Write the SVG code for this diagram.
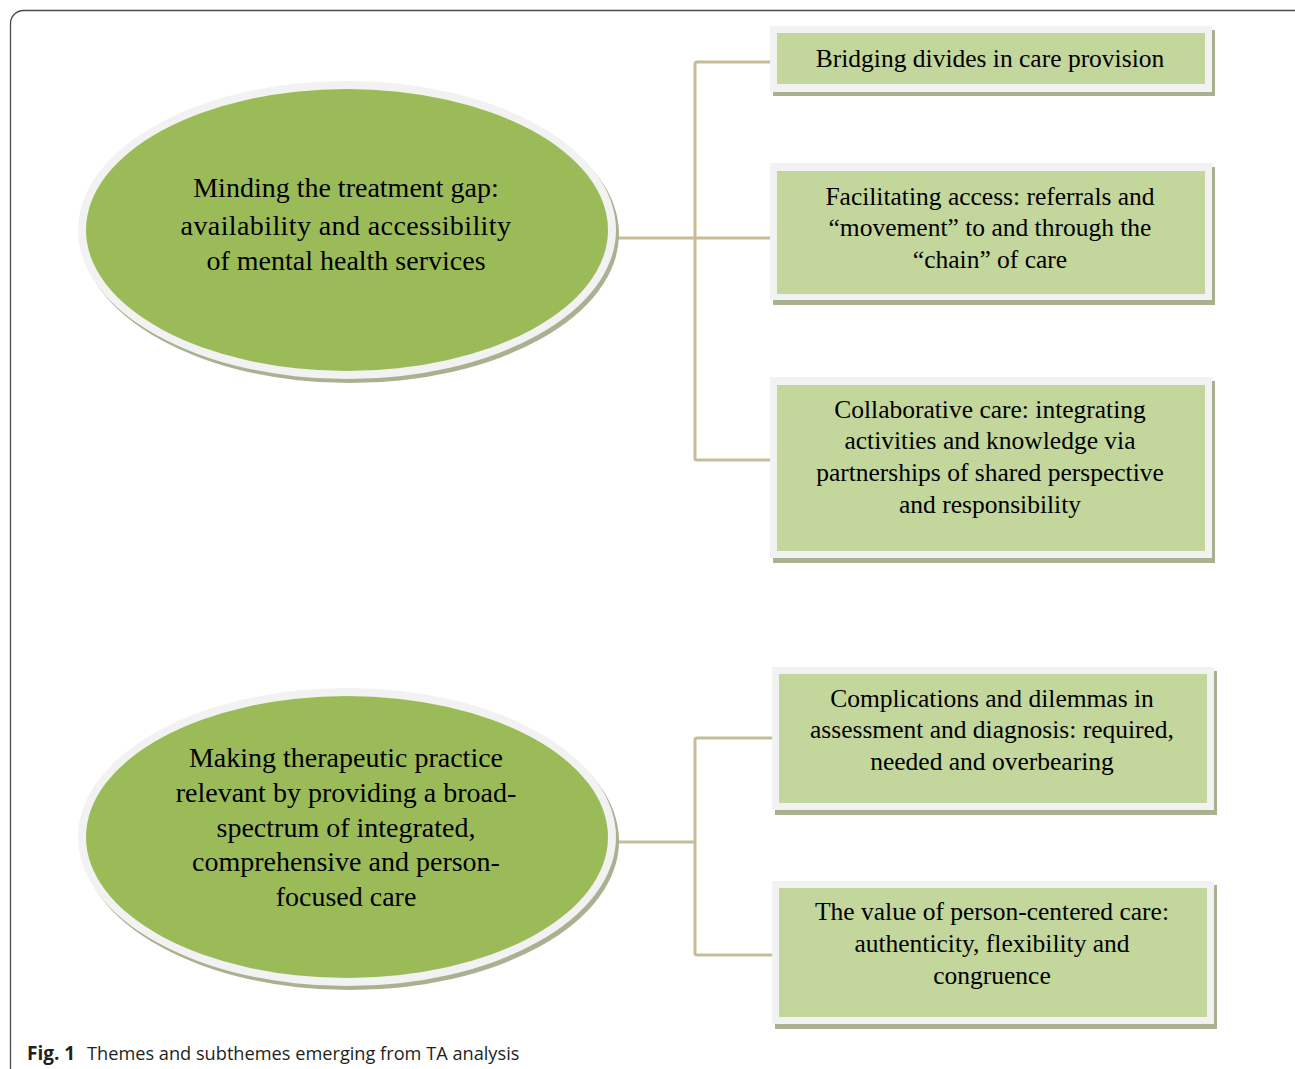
<svg xmlns="http://www.w3.org/2000/svg" width="1295" height="1069" viewBox="0 0 1295 1069">
<style>
.ring{fill:#f2f2f2}
.eshadow{fill:#a9b190}
.efill{fill:#9bbb59}
.frame{fill:#f2f2f2}
.bshadow{fill:#a9b190}
.bfill{fill:#c3d69b}
.t{font-family:"Liberation Serif","Times New Roman",serif;fill:#000;text-anchor:middle}
.bt{font-size:25.5px}
.et{font-size:28px}
.conn{fill:none;stroke:#c4bd97;stroke-width:3;stroke-linejoin:round}
.cap{font-family:"Open Sans","Noto Sans",sans-serif;font-size:19px;fill:#231f20}
</style>
<rect x="10.5" y="10.5" width="1300" height="1100" rx="13" ry="13" fill="#fff" stroke="#4a4a4a" stroke-width="1.3"/>
<g id="connectors">
<path class="conn" d="M618 238 H770 M772 62 H697 Q695 62 695 64 V458 Q695 460 697 460 H772"/>
<path class="conn" d="M618 842 H695 M772 738 H697 Q695 738 695 740 V953 Q695 955 697 955 H772"/>
</g>
<g id="theme1">
<ellipse class="eshadow" cx="350" cy="234" rx="269" ry="149"/>
<ellipse class="ring" cx="347" cy="230" rx="269" ry="149"/>
<ellipse class="efill" cx="347" cy="230" rx="261" ry="141"/>
<text class="t et" x="346" y="197">Minding the treatment gap:</text>
<text class="t et" x="346" y="235" letter-spacing="0.4">availability and accessibility</text>
<text class="t et" x="346" y="270">of mental health services</text>
</g>
<g id="theme2">
<ellipse class="eshadow" cx="350" cy="841" rx="269" ry="149"/>
<ellipse class="ring" cx="347" cy="837" rx="269" ry="149"/>
<ellipse class="efill" cx="347" cy="837" rx="261" ry="141"/>
<text class="t et" x="346" y="767">Making therapeutic practice</text>
<text class="t et" x="346" y="802">relevant by providing a broad-</text>
<text class="t et" x="346" y="837">spectrum of integrated,</text>
<text class="t et" x="346" y="871">comprehensive and person-</text>
<text class="t et" x="346" y="906">focused care</text>
</g>
<g id="sub1">
<rect class="bshadow" x="773" y="30" width="442" height="66"/>
<rect class="frame" x="770" y="26" width="442" height="66"/>
<rect class="bfill" x="777" y="33" width="428" height="51"/>
<text class="t bt" x="990" y="67">Bridging divides in care provision</text>
</g>
<g id="sub2">
<rect class="bshadow" x="773" y="167" width="442" height="138"/>
<rect class="frame" x="770" y="163" width="442" height="137"/>
<rect class="bfill" x="777" y="171" width="428" height="123"/>
<text class="t bt" x="990" y="205">Facilitating access: referrals and</text>
<text class="t bt" x="990" y="236">“movement” to and through the</text>
<text class="t bt" x="990" y="268">“chain” of care</text>
</g>
<g id="sub3">
<rect class="bshadow" x="773" y="381" width="442" height="182"/>
<rect class="frame" x="770" y="377" width="442" height="181"/>
<rect class="bfill" x="777" y="385" width="428" height="166"/>
<text class="t bt" x="990" y="418">Collaborative care: integrating</text>
<text class="t bt" x="990" y="449">activities and knowledge via</text>
<text class="t bt" x="990" y="481">partnerships of shared perspective</text>
<text class="t bt" x="990" y="513">and responsibility</text>
</g>
<g id="sub4">
<rect class="bshadow" x="775" y="671" width="442" height="144"/>
<rect class="frame" x="772" y="667" width="442" height="143"/>
<rect class="bfill" x="779" y="674" width="428" height="129"/>
<text class="t bt" x="992" y="707">Complications and dilemmas in</text>
<text class="t bt" x="992" y="738">assessment and diagnosis: required,</text>
<text class="t bt" x="992" y="770">needed and overbearing</text>
</g>
<g id="sub5">
<rect class="bshadow" x="775" y="885" width="442" height="144"/>
<rect class="frame" x="772" y="881" width="442" height="143"/>
<rect class="bfill" x="779" y="888" width="428" height="129"/>
<text class="t bt" x="992" y="920">The value of person-centered care:</text>
<text class="t bt" x="992" y="952">authenticity, flexibility and</text>
<text class="t bt" x="992" y="984">congruence</text>
</g>
<text class="cap" x="27" y="1060"><tspan font-weight="bold">Fig. 1</tspan><tspan x="87" font-size="18.2px">Themes and subthemes emerging from TA analysis</tspan></text>
</svg>
